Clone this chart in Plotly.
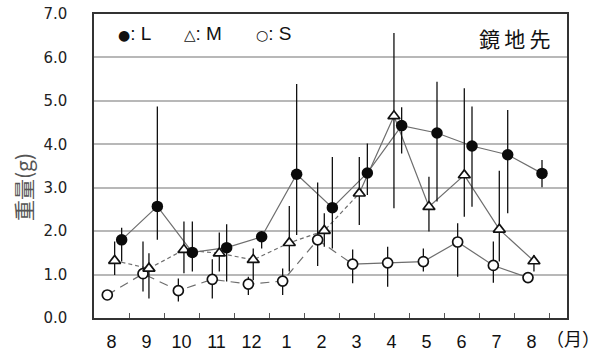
import plotly.graph_objects as go

# Month labels along the x axis (Aug -> Aug)
months = ["8", "9", "10", "11", "12", "1", "2", "3", "4", "5", "6", "7", "8"]

# Sampling positions (month index + fraction of month) for each size class
L_pos = [0.29, 1.31, 2.31, 3.29, 4.29, 5.29, 6.31, 7.31, 8.29, 9.30, 10.30, 11.32, 12.30]
M_pos = [0.09, 1.07, 2.07, 3.08, 4.05, 5.08, 6.08, 7.08, 8.07, 9.07, 10.08, 11.08, 12.07]
S_pos = [-0.12, 0.90, 1.91, 2.88, 3.91, 4.89, 5.89, 6.89, 7.89, 8.91, 9.89, 10.91, 11.90]

# Mean weight (g) and range (max / min) for each size class
L_mean = [1.80, 2.57, 1.51, 1.62, 1.87, 3.31, 2.54, 3.34, 4.43, 4.26, 3.96, 3.76, 3.33]
L_max = [2.08, 4.87, 2.22, 2.16, 1.97, 5.39, 3.71, 4.02, 4.85, 5.44, 4.87, 4.79, 3.64]
L_min = [1.30, 1.80, 1.07, 0.84, 1.60, 1.91, 1.60, 2.83, 3.79, 2.68, 2.56, 2.41, 3.01]

M_mean = [1.32, 1.14, 1.57, 1.49, 1.34, 1.73, 2.01, 2.87, 4.65, 2.56, 3.29, 2.04, 1.31]
M_max = [1.76, 1.49, 2.22, 1.97, 1.60, 2.58, 2.41, 3.71, 6.56, 3.25, 5.29, 3.39, 1.45]
M_min = [0.99, 0.45, 1.03, 1.07, 0.87, 1.07, 1.64, 2.14, 2.53, 1.99, 2.33, 1.30, 1.07]

S_mean = [0.53, 1.02, 0.63, 0.89, 0.78, 0.85, 1.80, 1.24, 1.27, 1.30, 1.75, 1.21, 0.93]
S_max = [0.53, 1.76, 0.91, 1.35, 0.95, 1.14, 3.12, 1.58, 1.64, 1.60, 2.18, 1.76, 0.93]
S_min = [0.53, 0.61, 0.38, 0.45, 0.53, 0.53, 1.20, 0.80, 0.72, 1.07, 0.95, 0.81, 0.93]

# Index where the connecting line switches from dashed to solid (M and S)
SPLIT = 7

y_ticks = [0, 1, 2, 3, 4, 5, 6, 7]
legend_items = [("●", "L"), ("△", "M"), ("○", "S")]
legend_symbol_size = [14, 15, 14]

LINE_GRAY = "#6e6e6e"

fig = go.Figure()


def add_line(xs, ys, dash):
    fig.add_trace(go.Scatter(
        x=xs, y=ys, mode="lines", hoverinfo="skip", showlegend=False,
        line=dict(color=LINE_GRAY, width=1.2, dash=dash),
    ))


# connecting lines
add_line(S_pos[:SPLIT + 1], S_mean[:SPLIT + 1], "9px,6px")
add_line(S_pos[SPLIT:], S_mean[SPLIT:], "solid")
add_line(M_pos[:SPLIT + 1], M_mean[:SPLIT + 1], "4px,3px")
add_line(M_pos[SPLIT:], M_mean[SPLIT:], "solid")
add_line(L_pos, L_mean, "solid")


def add_points(xs, mean, hi, lo, marker):
    fig.add_trace(go.Scatter(
        x=xs, y=mean, mode="markers", showlegend=False,
        marker=marker,
        error_y=dict(
            type="data", symmetric=False,
            array=[h - m for h, m in zip(hi, mean)],
            arrayminus=[m - l for m, l in zip(mean, lo)],
            color="#111111", thickness=1.3, width=0,
        ),
    ))


add_points(S_pos, S_mean, S_max, S_min,
           dict(symbol="circle", size=10, color="white",
                line=dict(color="#111111", width=1.7)))
add_points(M_pos, M_mean, M_max, M_min,
           dict(symbol="triangle-up", size=10.5, color="white",
                line=dict(color="#111111", width=1.7)))
add_points(L_pos, L_mean, L_max, L_min,
           dict(symbol="circle", size=11.5, color="#0a0a0a",
                line=dict(color="#0a0a0a", width=0)))

# text legend in the upper-left corner
legend_x = [134, 203, 273]
for (sym, name), fs, px in zip(legend_items, legend_symbol_size, legend_x):
    fig.add_annotation(
        x=(px - 94) / 473, y=(318 - 33) / 304, xref="paper", yref="paper",
        text=f"<span style='font-family:DejaVu Sans;font-size:{fs}px'>{sym}</span>: {name}",
        showarrow=False, xanchor="center", yanchor="middle",
        font=dict(family="Liberation Sans, Arial", size=19, color="#111111"),
    )

# site name
fig.add_annotation(
    x=(514 - 94) / 473, y=(318 - 38) / 304, xref="paper", yref="paper",
    text="鏡\u2009地\u2009先", showarrow=False, xanchor="center", yanchor="middle",
    font=dict(family="Noto Sans CJK JP", size=21, color="#111111"),
)

# unit label for the x axis
fig.add_annotation(
    x=(573 - 94) / 473, y=-(338 - 318) / 304, xref="paper", yref="paper",
    text="（月）", showarrow=False, xanchor="center", yanchor="middle",
    font=dict(family="Noto Sans CJK JP", size=18, color="#111111"),
)

# y axis title
fig.add_annotation(
    x=(23 - 94) / 473, y=(318 - 187) / 304, xref="paper", yref="paper",
    text="重量(g)", textangle=-90, showarrow=False,
    xanchor="center", yanchor="middle",
    font=dict(family="Noto Sans CJK JP", size=21, color="#555555"),
)

fig.update_layout(
    width=605, height=360,
    margin=dict(l=94, r=38, t=14, b=42, autoexpand=False),
    paper_bgcolor="white", plot_bgcolor="white",
    showlegend=False,
    xaxis=dict(
        range=[-0.5, -0.5 + 473 / 35], tickmode="array",
        tickvals=list(range(len(months))), ticktext=months,
        ticks="", showgrid=False, zeroline=False, automargin=False,
        showline=True, linecolor="#333333", linewidth=1.5, mirror=True,
        tickfont=dict(family="Liberation Sans, Arial", size=18, color="#111111"),
        ticklabelstandoff=7,
        minor=dict(tickmode="array", tickvals=[i + 0.5 for i in range(len(months))],
                   ticks="inside", ticklen=5, tickwidth=1, tickcolor="#555555",
                   showgrid=False),
    ),
    yaxis=dict(
        range=[0, 7], tickmode="array", tickvals=y_ticks,
        ticktext=[f"{v:.1f}" for v in y_ticks], ticks="",
        showgrid=True, gridcolor="#b8b8b8", gridwidth=1.5, zeroline=False,
        automargin=False,
        showline=True, linecolor="#333333", linewidth=1.5, mirror=True,
        tickfont=dict(family="DejaVu Sans", size=15, color="#222222"),
        ticklabelstandoff=22,
    ),
)

fig.write_html("out.html")
